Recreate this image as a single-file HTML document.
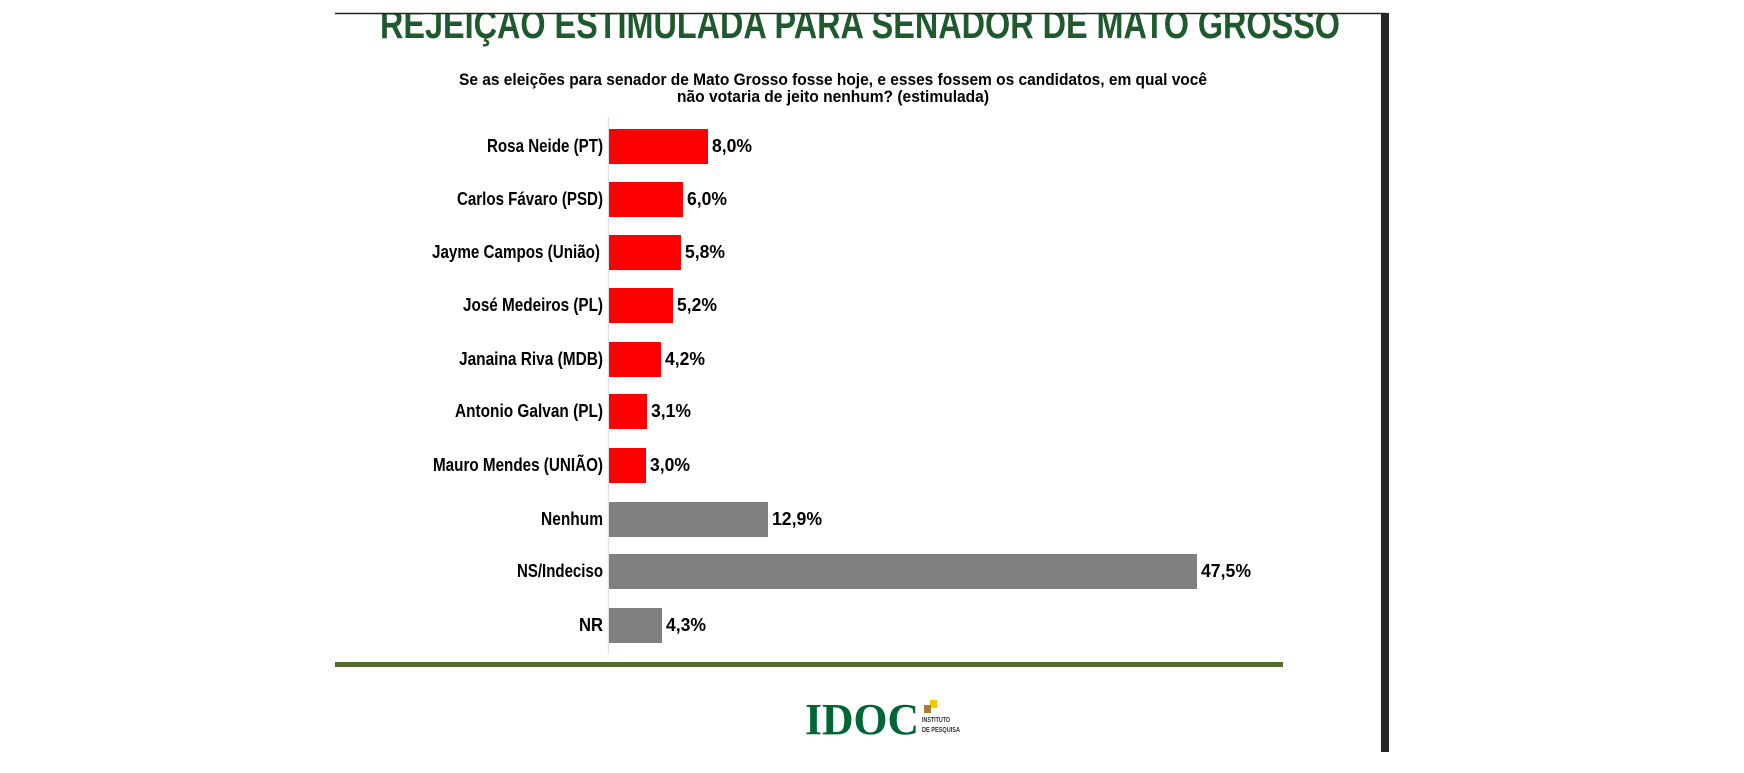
<!DOCTYPE html>
<html><head><meta charset="utf-8"><style>
html,body{margin:0;padding:0;background:#fff;width:1744px;height:773px;overflow:hidden}
svg{display:block}
text{font-family:"Liberation Sans",sans-serif;font-weight:bold}
</style></head><body>
<svg width="1744" height="773" viewBox="0 0 1744 773">
<rect width="1744" height="773" fill="#fff"/>
<text x="860" y="38" text-anchor="middle" font-size="41" fill="#1e5a2e" textLength="960" lengthAdjust="spacingAndGlyphs">REJEIÇÃO ESTIMULADA PARA SENADOR DE MATO GROSSO</text>
<rect x="335" y="0" width="1050" height="13" fill="#fff"/>
<line x1="335" y1="13.5" x2="1386" y2="13.5" stroke="#222" stroke-width="1.5"/>
<rect x="1381" y="13" width="8" height="739" fill="#262626"/>
<text x="833" y="85" text-anchor="middle" font-size="17" fill="#000" textLength="748" lengthAdjust="spacingAndGlyphs">Se as eleições para senador de Mato Grosso fosse hoje, e esses fossem os candidatos, em qual você</text>
<text x="833" y="102" text-anchor="middle" font-size="17" fill="#000" textLength="312" lengthAdjust="spacingAndGlyphs">não votaria de jeito nenhum? (estimulada)</text>
<line x1="608.5" y1="117" x2="608.5" y2="654" stroke="#dde3f0" stroke-width="1.5"/>
<g font-size="18">
<rect x="609" y="129" width="99" height="35" fill="#ff0000"/>
<text x="603" y="152" text-anchor="end" textLength="116" lengthAdjust="spacingAndGlyphs">Rosa Neide (PT)</text>
<text x="712" y="152" textLength="40" lengthAdjust="spacingAndGlyphs">8,0%</text>

<rect x="609" y="182" width="74" height="35" fill="#ff0000"/>
<text x="603" y="205" text-anchor="end" textLength="146" lengthAdjust="spacingAndGlyphs">Carlos Fávaro (PSD)</text>
<text x="687" y="205" textLength="40" lengthAdjust="spacingAndGlyphs">6,0%</text>

<rect x="609" y="235" width="72" height="35" fill="#ff0000"/>
<text x="600" y="258" text-anchor="end" textLength="168" lengthAdjust="spacingAndGlyphs">Jayme Campos (União)</text>
<text x="685" y="258" textLength="40" lengthAdjust="spacingAndGlyphs">5,8%</text>

<rect x="609" y="288" width="64" height="35" fill="#ff0000"/>
<text x="603" y="311" text-anchor="end" textLength="140" lengthAdjust="spacingAndGlyphs">José Medeiros (PL)</text>
<text x="677" y="311" textLength="40" lengthAdjust="spacingAndGlyphs">5,2%</text>

<rect x="609" y="342" width="52" height="35" fill="#ff0000"/>
<text x="603" y="365" text-anchor="end" textLength="144" lengthAdjust="spacingAndGlyphs">Janaina Riva (MDB)</text>
<text x="665" y="365" textLength="40" lengthAdjust="spacingAndGlyphs">4,2%</text>

<rect x="609" y="394" width="38" height="35" fill="#ff0000"/>
<text x="603" y="417" text-anchor="end" textLength="148" lengthAdjust="spacingAndGlyphs">Antonio Galvan (PL)</text>
<text x="651" y="417" textLength="40" lengthAdjust="spacingAndGlyphs">3,1%</text>

<rect x="609" y="448" width="37" height="35" fill="#ff0000"/>
<text x="603" y="471" text-anchor="end" textLength="170" lengthAdjust="spacingAndGlyphs">Mauro Mendes (UNIÃO)</text>
<text x="650" y="471" textLength="40" lengthAdjust="spacingAndGlyphs">3,0%</text>

<rect x="609" y="502" width="159" height="35" fill="#808080"/>
<text x="603" y="525" text-anchor="end" textLength="62" lengthAdjust="spacingAndGlyphs">Nenhum</text>
<text x="772" y="525" textLength="50" lengthAdjust="spacingAndGlyphs">12,9%</text>

<rect x="609" y="554" width="588" height="35" fill="#808080"/>
<text x="603" y="577" text-anchor="end" textLength="86" lengthAdjust="spacingAndGlyphs">NS/Indeciso</text>
<text x="1201" y="577" textLength="50" lengthAdjust="spacingAndGlyphs">47,5%</text>

<rect x="609" y="608" width="53" height="35" fill="#808080"/>
<text x="603" y="631" text-anchor="end" textLength="24" lengthAdjust="spacingAndGlyphs">NR</text>
<text x="666" y="631" textLength="40" lengthAdjust="spacingAndGlyphs">4,3%</text>
</g>
<rect x="335" y="662" width="948" height="5" fill="#556b2f"/>
<text x="805" y="734" font-size="44" fill="#006633" textLength="114" lengthAdjust="spacingAndGlyphs" style="font-family:'Liberation Serif',serif">IDOC</text>
<rect x="930" y="700" width="7" height="8" fill="#f0c800"/>
<rect x="924" y="705" width="7" height="8" fill="#a8812f"/>
<text x="922" y="722" font-size="7" fill="#333" textLength="28" lengthAdjust="spacingAndGlyphs">INSTITUTO</text>
<text x="922" y="732" font-size="7" fill="#333" textLength="38" lengthAdjust="spacingAndGlyphs">DE PESQUISA</text>
</svg>
</body></html>
